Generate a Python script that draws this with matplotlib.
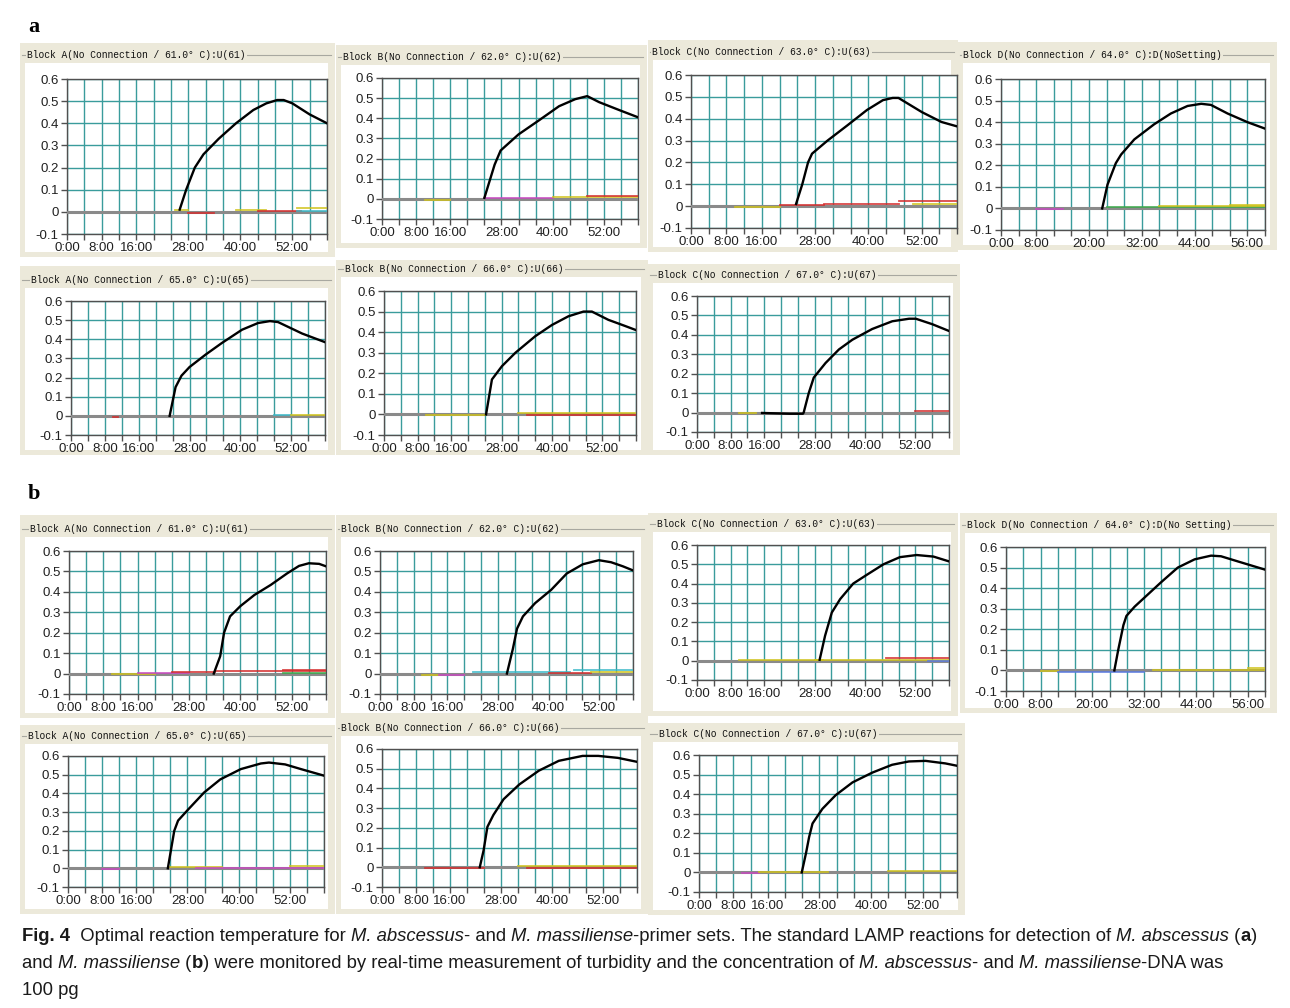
import numpy as np
import matplotlib.pyplot as plt
from matplotlib.patches import Rectangle
from matplotlib.lines import Line2D
from matplotlib import font_manager

W, H = 1290, 1008

# turbidity curves of the positive sample (minutes, turbidity)
a61_t = [26, 27.5, 29.5, 31.5, 35, 39, 43, 46, 48.5, 50, 52, 56, 60]
a61_v = [0.01, 0.10, 0.20, 0.26, 0.33, 0.40, 0.46, 0.49, 0.505, 0.505, 0.49, 0.44, 0.40]
a62_t = [24.0, 26.4, 27.8, 32, 36.8, 41.5, 45.3, 48.1, 50.9, 55.7, 60]
a62_v = [0.005, 0.17, 0.24, 0.32, 0.39, 0.46, 0.495, 0.51, 0.48, 0.44, 0.405]
a63_t = [23.7, 25.1, 26.4, 27.3, 30.8, 35.3, 39.7, 43.3, 45.5, 46.8, 52.1, 56.5, 60]
a63_v = [0.01, 0.10, 0.20, 0.24, 0.30, 0.37, 0.44, 0.485, 0.495, 0.495, 0.43, 0.385, 0.365]
a64_t = [23.0, 24.2, 26.1, 27.3, 30.3, 34.8, 38.6, 42.4, 45.5, 47.7, 51.5, 56, 60]
a64_v = [0.0, 0.11, 0.21, 0.25, 0.32, 0.39, 0.44, 0.475, 0.485, 0.48, 0.44, 0.40, 0.37]
a65_t = [23.3, 24.7, 26.1, 28, 31.8, 35.6, 40.4, 44.2, 47, 48.9, 54.6, 60]
a65_v = [0.0, 0.15, 0.21, 0.255, 0.32, 0.38, 0.45, 0.485, 0.495, 0.49, 0.43, 0.385]
a66_t = [24.3, 25.7, 28.1, 31.3, 36, 40, 43.9, 47.5, 49.5, 53.4, 57.4, 60]
a66_v = [0.0, 0.17, 0.235, 0.30, 0.38, 0.435, 0.477, 0.50, 0.50, 0.46, 0.43, 0.41]
a67_t = [15.5, 22, 25.2, 25.4, 26.6, 27.8, 30.6, 33.8, 37, 41.7, 46.5, 50.5, 52.1, 56, 60]
a67_v = [-0.002, -0.006, -0.006, 0.0, 0.10, 0.18, 0.255, 0.325, 0.375, 0.43, 0.47, 0.483, 0.483, 0.455, 0.42]

b61_t = [33.8, 35.3, 36.2, 37.6, 40, 43.3, 47.1, 50.9, 53.7, 56, 58.4, 60]
b61_v = [0.0, 0.085, 0.20, 0.28, 0.33, 0.385, 0.434, 0.49, 0.527, 0.54, 0.537, 0.525]
b62_t = [30.1, 31.5, 32.5, 33.9, 36.8, 40.6, 44.3, 48.1, 51.9, 54.8, 57.6, 60]
b62_v = [0.0, 0.12, 0.22, 0.28, 0.345, 0.41, 0.49, 0.535, 0.555, 0.545, 0.525, 0.505]
b63_t = [29.2, 30.5, 32.1, 34.1, 37.2, 40.4, 44.4, 48.3, 52.3, 56.3, 60]
b63_v = [0.005, 0.13, 0.25, 0.32, 0.40, 0.445, 0.50, 0.537, 0.548, 0.54, 0.515]
b64_t = [25.1, 26, 27.2, 27.9, 29.8, 32.9, 36, 39.8, 43.7, 47.5, 49.8, 53.7, 60]
b64_v = [0.0, 0.10, 0.22, 0.265, 0.31, 0.37, 0.43, 0.50, 0.54, 0.558, 0.555, 0.53, 0.49]
b65_t = [23.4, 24.9, 25.8, 28.2, 31.9, 35.7, 40.5, 45.2, 47.1, 50.9, 54.6, 60]
b65_v = [0.0, 0.20, 0.255, 0.315, 0.405, 0.475, 0.53, 0.56, 0.565, 0.555, 0.53, 0.495]
b66_t = [23, 23.9, 24.8, 26.2, 28.6, 32.3, 36.9, 41.6, 47.2, 50.9, 55.5, 60]
b66_v = [0.0, 0.085, 0.205, 0.265, 0.345, 0.42, 0.49, 0.54, 0.565, 0.565, 0.555, 0.535]
b67_t = [23.9, 24.9, 25.6, 26.4, 28.7, 31.8, 35.7, 40.3, 44.9, 48.8, 52.7, 57.3, 60]
b67_v = [0.0, 0.10, 0.18, 0.25, 0.325, 0.395, 0.46, 0.51, 0.55, 0.567, 0.57, 0.557, 0.545]

# negative-control traces near zero: (start, end, value, trace no.)
a61_neg = [(25, 28, 0.008, 0), (28, 34, -0.003, 1), (39, 46, 0.01, 0), (44, 54, 0.006, 1), (53, 60, 0.016, 0), (53, 60, 0.006, 4)]
a62_neg = [(10, 16, -0.004, 0), (24, 40, 0.006, 3), (40, 60, 0.01, 0), (48, 60, 0.014, 1)]
a63_neg = [(10, 20, -0.004, 0), (20, 30, 0.006, 1), (30, 47, 0.012, 1), (47, 60, 0.022, 1), (50, 60, 0.01, 0)]
a64_neg = [(8, 14, -0.004, 3), (24, 60, 0.008, 2), (36, 60, 0.012, 0), (52, 60, 0.018, 0)]
a65_neg = [(10, 11, -0.004, 1), (48, 52, 0.004, 4), (52, 60, 0.006, 0)]
a66_neg = [(10, 24, -0.002, 0), (32, 60, 0.008, 0), (34, 60, -0.004, 1)]
a67_neg = [(10, 14, -0.004, 0), (52, 60, 0.01, 1)]
b61_neg = [(10, 20, -0.003, 0), (16, 28, 0.003, 3), (24, 34, 0.006, 1), (34, 60, 0.012, 1), (50, 60, 0.016, 1), (50, 60, 0.003, 2)]
b62_neg = [(10, 14, -0.006, 0), (14, 20, -0.006, 3), (22, 45, 0.008, 4), (40, 50, 0.004, 1), (46, 60, 0.018, 4), (50, 60, 0.01, 0)]
b63_neg = [(10, 30, 0.002, 0), (28, 60, 0.006, 0), (45, 60, 0.012, 1), (55, 60, -0.004, 5)]
b64_neg = [(8, 12, -0.003, 0), (12, 32, -0.006, 5), (34, 60, 0.004, 0), (56, 60, 0.012, 0)]
b65_neg = [(8, 12, -0.005, 3), (24, 36, 0.006, 0), (30, 60, 0.003, 3), (52, 60, 0.01, 0)]
b66_neg = [(10, 24, -0.004, 1), (32, 60, 0.008, 0), (34, 60, -0.004, 1)]
b67_neg = [(10, 14, -0.004, 3), (14, 30, 0.003, 0), (44, 60, 0.008, 0)]

titles = [
    "Block A(No Connection / 61.0\u00b0 C):U(61)",
    "Block B(No Connection / 62.0\u00b0 C):U(62)",
    "Block C(No Connection / 63.0\u00b0 C):U(63)",
    "Block D(No Connection / 64.0\u00b0 C):D(NoSetting)",
    "Block A(No Connection / 65.0\u00b0 C):U(65)",
    "Block B(No Connection / 66.0\u00b0 C):U(66)",
    "Block C(No Connection / 67.0\u00b0 C):U(67)",
    "Block A(No Connection / 61.0\u00b0 C):U(61)",
    "Block B(No Connection / 62.0\u00b0 C):U(62)",
    "Block C(No Connection / 63.0\u00b0 C):U(63)",
    "Block D(No Connection / 64.0\u00b0 C):D(No Setting)",
    "Block A(No Connection / 65.0\u00b0 C):U(65)",
    "Block B(No Connection / 66.0\u00b0 C):U(66)",
    "Block C(No Connection / 67.0\u00b0 C):U(67)",
]
curves_t = [a61_t, a62_t, a63_t, a64_t, a65_t, a66_t, a67_t, b61_t, b62_t, b63_t, b64_t, b65_t, b66_t, b67_t]
curves_v = [a61_v, a62_v, a63_v, a64_v, a65_v, a66_v, a67_v, b61_v, b62_v, b63_v, b64_v, b65_v, b66_v, b67_v]
negs = [a61_neg, a62_neg, a63_neg, a64_neg, a65_neg, a66_neg, a67_neg,
        b61_neg, b62_neg, b63_neg, b64_neg, b65_neg, b66_neg, b67_neg]

xlab_std = ["0:00", "8:00", "16:00", "28:00", "40:00", "52:00"]
xlab_d = ["0:00", "8:00", "20:00", "32:00", "44:00", "56:00"]

# layout in pixels
frames = [(20, 43, 335, 257), (336, 45, 647, 248), (648, 40, 958, 252), (958, 42, 1277, 250),
          (20, 266, 335, 455), (336, 260, 648, 455), (648, 264, 960, 455),
          (20, 515, 335, 718), (336, 515, 648, 718), (648, 513, 958, 716), (960, 513, 1277, 713),
          (20, 725, 335, 914), (336, 718, 648, 914), (648, 723, 965, 915)]
title_xy = [(27, 55), (343, 57), (652, 52), (963, 55), (31, 280), (345, 269), (658, 275),
            (30, 529), (341, 529), (657, 524), (967, 525), (28, 736), (341, 728), (659, 734)]
axes_px = [(67, 327, 79, 234), (382, 638, 78, 219), (691, 957, 75, 228), (1001, 1265, 79, 230),
           (71, 325, 301, 435), (384, 636, 291, 435), (697, 949, 296, 432),
           (69, 326, 551, 694), (380, 633, 551, 694), (697, 949, 545, 680), (1006, 1265, 547, 691),
           (68, 324, 756, 887), (382, 637, 749, 887), (699, 957, 755, 892)]

BEIGE = '#ECE9DA'
TEAL = '#3a9c9c'
NEG_COLORS = ['#cfc21a', '#d42a2a', '#3aa84a', '#c848c0', '#3ab8c8', '#5a7ae0']


def fx(x):
    return x / W


def fy(y):
    return 1 - y / H


fig = plt.figure(figsize=(12.9, 10.08), dpi=100)
fig.patch.set_facecolor('white')

for i in range(len(titles)):
    x0, y0, x1, y1 = frames[i]
    tx, ty = title_xy[i]
    fig.patches.append(Rectangle((fx(x0), fy(y1)), (x1 - x0) / W, (y1 - y0) / H,
                                 transform=fig.transFigure, facecolor=BEIGE, edgecolor='none', zorder=-3))
    fig.patches.append(Rectangle((fx(x0 + 5), fy(y1 - 5)), (x1 - x0 - 12) / W, (y1 - 5 - ty - 8) / H,
                                 transform=fig.transFigure, facecolor='white', edgecolor='none', zorder=-2))
    fig.add_artist(Line2D([fx(x0 + 2), fx(x1 - 4)], [fy(ty), fy(ty)], color='#a8a8a0', lw=0.8, zorder=-1))
    fig.text(fx(tx), fy(ty), titles[i], fontsize=6.9, family='Liberation Mono', va='center',
             color='#111111', zorder=-1, bbox=dict(facecolor=BEIGE, edgecolor='none', pad=1))

    L, R, T, B = axes_px[i]
    ax = fig.add_axes([fx(L), fy(B), (R - L) / W, (B - T) / H])
    ax.set_zorder(1)
    ax.set_xlim(0, 60)
    ax.set_ylim(-0.1, 0.6)
    labs = xlab_d if i in (3, 10) else xlab_std
    pos = {int(s.split(':')[0]): s for s in labs}
    ticks = np.arange(0, 61, 4)
    ax.set_xticks(ticks)
    ax.set_xticklabels([pos.get(int(t), '') for t in ticks])
    yt = np.round(np.arange(-0.1, 0.61, 0.1), 1)
    ax.set_yticks(yt)
    ax.set_yticklabels(['0' if v == 0 else f'{v:g}' for v in yt])
    ax.grid(color=TEAL, lw=1.0)
    ax.set_axisbelow(True)
    for s in ax.spines.values():
        s.set_color('#505050')
        s.set_linewidth(1)
    ax.tick_params(direction='out', length=4, width=1, color='#505050', labelsize=9.5, pad=2,
                   labelcolor='#202020')
    for lab in ax.get_xticklabels() + ax.get_yticklabels():
        lab.set_family('Liberation Sans')

    ax.axhline(0, color='#8a8a8a', lw=2.2, zorder=3)
    for t0, t1, v, c in negs[i]:
        ax.plot([t0, t1], [v, v], color=NEG_COLORS[c], lw=1.3, alpha=0.85, zorder=4)
    ax.plot(curves_t[i], curves_v[i], color='black', lw=1.7, zorder=5)

# panel letters
fig.text(fx(28), fy(27), 'a', fontsize=16, weight='bold', family='Liberation Serif', va='center')
fig.text(fx(28), fy(494), 'b', fontsize=16, weight='bold', family='Liberation Serif', va='center')

# caption
names = {f.name for f in font_manager.fontManager.ttflist}
CAP_FONT = 'Liberation Sans Narrow' if 'Liberation Sans Narrow' in names else 'Liberation Sans'

cap_lines = [
    [("Fig. 4", 'b'), ("  Optimal reaction temperature for ", 'n'), ("M. abscessus", 'i'),
     ("- and ", 'n'), ("M. massiliense", 'i'),
     ("-primer sets. The standard LAMP reactions for detection of ", 'n'), ("M. abscessus", 'i'),
     (" (", 'n'), ("a", 'b'), (")", 'n')],
    [("and ", 'n'), ("M. massiliense", 'i'), (" (", 'n'), ("b", 'b'),
     (") were monitored by real-time measurement of turbidity and the concentration of ", 'n'),
     ("M. abscessus", 'i'), ("- and ", 'n'), ("M. massiliense", 'i'), ("-DNA was", 'n')],
    [("100 pg", 'n')],
]
cap_base = [941, 968, 995]

renderer = fig.canvas.get_renderer()


def draw_line(x, y, runs, size):
    items = []
    for s, st in runs:
        t = fig.text(fx(x), fy(y), s, fontsize=size, family=CAP_FONT, va='baseline',
                     weight='bold' if st == 'b' else 'normal',
                     style='italic' if st == 'i' else 'normal', color='#1a1a1a')
        bb = t.get_window_extent(renderer=renderer)
        x += bb.width
        items.append(t)
    return items, x


size = 13
items, xend = draw_line(22, cap_base[0], cap_lines[0], size)
scale = (1262 - 22) / (xend - 22)
for t in items:
    t.remove()
size = size * min(scale, 1.3)
for k in range(3):
    draw_line(22, cap_base[k], cap_lines[k], size)

fig.savefig('out.png', dpi=100)
